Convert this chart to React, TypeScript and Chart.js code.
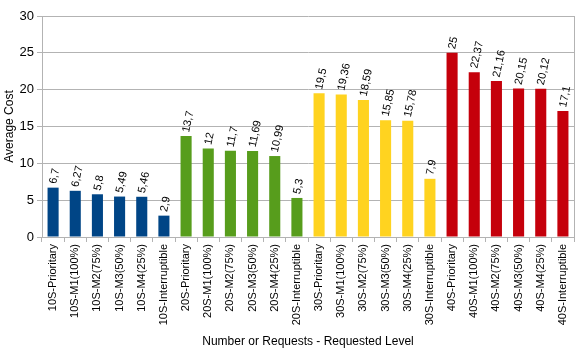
import React, { useEffect, useRef } from "react";
import { Chart, registerables } from "chart.js";

Chart.register(...registerables);

const categories = [
  "10S-Prioritary", "10S-M1(100%)", "10S-M2(75%)", "10S-M3(50%)", "10S-M4(25%)", "10S-Interruptible",
  "20S-Prioritary", "20S-M1(100%)", "20S-M2(75%)", "20S-M3(50%)", "20S-M4(25%)", "20S-Interruptible",
  "30S-Prioritary", "30S-M1(100%)", "30S-M2(75%)", "30S-M3(50%)", "30S-M4(25%)", "30S-Interruptible",
  "40S-Prioritary", "40S-M1(100%)", "40S-M2(75%)", "40S-M3(50%)", "40S-M4(25%)", "40S-Interruptible",
];

const values = [
  6.7, 6.27, 5.8, 5.49, 5.46, 2.9,
  13.7, 12, 11.7, 11.69, 10.99, 5.3,
  19.5, 19.36, 18.59, 15.85, 15.78, 7.9,
  25, 22.37, 21.16, 20.15, 20.12, 17.1,
];

const groupColors = ["#004586", "#579d1c", "#ffd320", "#c5000b"];
const yTicks = [0, 5, 10, 15, 20, 25, 30];

const FONT = "'Liberation Sans', Arial, sans-serif";

const labelPlugin = {
  id: "barLabels",
  afterDatasetsDraw(chart: any) {
    const ctx = chart.ctx;
    const meta = chart.getDatasetMeta(0);
    ctx.save();
    ctx.fillStyle = "#000";
    ctx.font = `11px ${FONT}`;
    ctx.textAlign = "left";
    ctx.textBaseline = "middle";
    meta.data.forEach((bar: any, i: number) => {
      const txt = String(values[i]).replace(".", ",");
      ctx.save();
      ctx.translate(bar.x, bar.y - 4);
      ctx.rotate((-78 * Math.PI) / 180);
      ctx.fillText(txt, 0, 0);
      ctx.restore();
    });
    ctx.restore();
  },
};

const borderPlugin = {
  id: "rightBorder",
  afterDraw(chart: any) {
    const { ctx, chartArea } = chart;
    ctx.save();
    ctx.strokeStyle = "#b3b3b3";
    ctx.lineWidth = 1;
    ctx.beginPath();
    ctx.moveTo(Math.round(chartArea.right) + 0.5, chartArea.top);
    ctx.lineTo(Math.round(chartArea.right) + 0.5, chartArea.bottom + 5);
    ctx.stroke();
    ctx.restore();
  },
};

export default function App() {
  const ref = useRef<HTMLCanvasElement | null>(null);
  useEffect(() => {
    document.body.style.margin = "0";
    const colors = values.map((_, i) => groupColors[Math.floor(i / 6)]);
    const chart = new Chart(ref.current as HTMLCanvasElement, {
      type: "bar",
      data: {
        labels: categories,
        datasets: [
          {
            data: values,
            backgroundColor: colors,
            borderWidth: 0,
            barPercentage: 0.5,
            categoryPercentage: 1,
          },
        ],
      },
      plugins: [labelPlugin, borderPlugin],
      options: {
        responsive: false,
        animation: false,
        layout: { padding: { top: 16, right: 6, left: 0, bottom: 0 } },
        plugins: { legend: { display: false }, tooltip: { enabled: false } },
        scales: {
          x: {
            offset: true,
            grid: {
              display: true,
              offset: true,
              drawOnChartArea: false,
              drawTicks: true,
              tickLength: 5,
              color: "#b3b3b3",
            },
            border: { display: true, color: "#b3b3b3" },
            ticks: {
              autoSkip: false,
              maxRotation: 90,
              minRotation: 90,
              color: "#000",
              font: { family: FONT, size: 11 },
              padding: 2,
            },
            title: {
              display: true,
              text: "Number or Requests - Requested Level",
              color: "#000",
              font: { family: FONT, size: 12 },
              padding: { top: 8, bottom: 9 },
            },
            afterFit(scale: any) {
              scale.height = 121;
            },
          },
          y: {
            min: 0,
            max: 30,
            afterBuildTicks(scale: any) {
              scale.ticks = yTicks.map((v) => ({ value: v }));
            },
            grid: { color: "#b3b3b3", drawTicks: true, tickLength: 5 },
            border: { display: true, color: "#b3b3b3" },
            ticks: {
              color: "#000",
              font: { family: FONT, size: 13 },
              padding: 3,
            },
            title: {
              display: true,
              text: "Average Cost",
              color: "#000",
              font: { family: FONT, size: 12 },
              padding: { top: 2, bottom: 2 },
            },
            afterFit(scale: any) {
              scale.width = 42;
            },
          },
        },
      },
    });
    return () => chart.destroy();
  }, []);
  return <canvas ref={ref} width={580} height={358} style={{ display: "block" }} />;
}
